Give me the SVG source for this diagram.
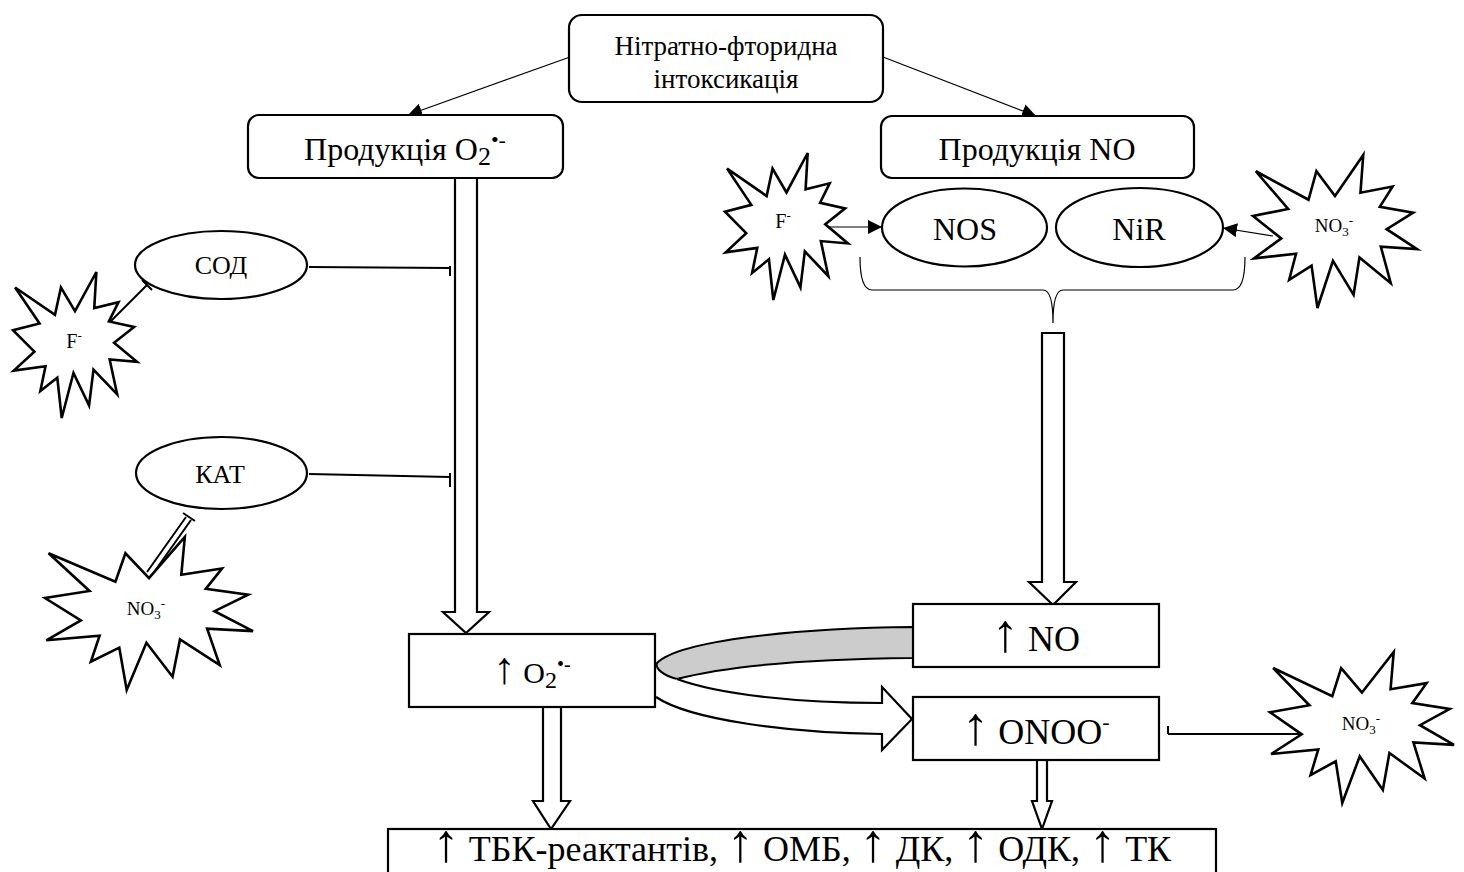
<svg xmlns="http://www.w3.org/2000/svg" width="1464" height="872" viewBox="0 0 1464 872">
  <defs>
    <style>
      text { font-family: "Liberation Serif", "Times New Roman", serif; fill: #000; text-anchor: middle; }
      .up { font-size: 150%; }
      .box { fill: #fff; stroke: #000; stroke-width: 2.2; }
      .oval { fill: #fff; stroke: #000; stroke-width: 2.2; }
      .burst { fill: #fff; stroke: #000; stroke-width: 2.6; stroke-linejoin: miter; }
      .thin { fill: none; stroke: #000; stroke-width: 1.2; }
      .link { fill: none; stroke: #000; stroke-width: 2; }
      .block { fill: #fff; stroke: #000; stroke-width: 2.2; stroke-linejoin: miter; }
    </style>
    <!-- "Explosion" starburst outline, 21600-unit box -->
    <symbol id="burst" viewBox="0 0 21600 21600" preserveAspectRatio="none" overflow="visible">
      <path vector-effect="non-scaling-stroke" d="M10800 5800 L8352 2295 L7312 6320 L370 2295 L4627 7617 L0 8615 L3722 11775 L135 14587 L5667 13937 L4762 17617 L7715 15627 L8485 21600 L10532 14935 L13247 19737 L14020 14457 L18145 18095 L16837 12942 L21600 13290 L17607 10475 L21097 8137 L16702 7315 L18380 4457 L14155 5325 L14522 0 Z"/>
    </symbol>
    <marker id="arrow" viewBox="0 0 10 10" refX="10" refY="5" markerWidth="14" markerHeight="14" markerUnits="userSpaceOnUse" orient="auto">
      <path d="M0 0 L10 5 L0 10 Z" fill="#000"/>
    </marker>
  </defs>

  <rect width="1464" height="872" fill="#fff"/>

  <!-- connectors -->
  <g id="connectors">
    <!-- thin arrows from the top box -->
    <line class="thin" x1="570" y1="57" x2="408" y2="115" marker-end="url(#arrow)"/>
    <line class="thin" x1="883" y1="57" x2="1036" y2="116" marker-end="url(#arrow)"/>
    <!-- activators of NOS / NiR -->
    <line class="thin" x1="828" y1="227" x2="882" y2="227" marker-end="url(#arrow)"/>
    <line class="thin" x1="1273" y1="236" x2="1223" y2="228" marker-end="url(#arrow)"/>
    <!-- inhibition lines -->
    <path class="link" d="M309 267 L450 268 M450 266 L450 276"/>
    <path class="link" d="M309 474 L450 477 M450 473 L450 487"/>
    <path class="link" d="M110 322 L147 285 M142 280 L152 290"/>
    <path class="link" d="M147 572 L186 517 M152 575 L191 520 M183 513 L195 521"/>
    <path class="link" d="M1168 734 L1306 734 M1168 726 L1168 734"/>
    <!-- brace under NOS / NiR -->
    <path class="thin" d="M860 257 Q860 290 872 290 L1043 290 Q1053 290 1053 323 Q1053 290 1063 290 L1233 290 Q1245 290 1245 257"/>
    <!-- block arrows -->
    <path class="block" d="M455 178 L477 178 L477 612 L489 612 L466 633 L443 612 L455 612 Z"/>
    <path class="block" d="M1042 333 L1064 333 L1064 582 L1076 582 L1053 605 L1029 582 L1042 582 Z"/>
    <path class="block" d="M543 707 L561 707 L561 801 L570 801 L551 829 L533 801 L543 801 Z"/>
    <path class="block" d="M1037 760 L1047 760 L1047 801 L1052 801 L1042 829 L1032 801 L1037 801 Z"/>
    <!-- curved band O2 -> NO and curved arrow O2 -> ONOO -->
    <path fill="#ccc" stroke="#000" stroke-width="2" d="M913 627 C800 628 680 640 657 663 C655 668 662 675 677 679 C730 665 820 659 913 658 Z"/>
    <path class="block" d="M677 679 C720 695 800 703 882 703 L882 687 L912 719 L882 750 L882 734 C790 733 690 720 656 697"/>
  </g>

  <!-- nodes -->
  <g id="n-intox">
    <rect class="box" x="569" y="15" width="314" height="87" rx="13"/>
    <text x="726" y="55" font-size="27">Нітратно-фторидна</text>
    <text x="726" y="88" font-size="27">інтоксикація</text>
  </g>

  <g id="n-prod-o2">
    <rect class="box" x="248" y="115" width="315" height="63" rx="11"/>
    <text x="405" y="160" font-size="32">Продукція O<tspan font-size="26" dy="5">2</tspan><tspan font-size="22" dy="-18">•-</tspan></text>
  </g>

  <g id="n-prod-no">
    <rect class="box" x="881" y="116" width="313" height="62" rx="11"/>
    <text x="1037" y="160" font-size="32">Продукція NO</text>
  </g>

  <g id="n-nos">
    <ellipse class="oval" cx="964.5" cy="227.5" rx="82.5" ry="39"/>
    <text x="965" y="240" font-size="32">NOS</text>
  </g>

  <g id="n-nir">
    <ellipse class="oval" cx="1139.5" cy="227.5" rx="83.5" ry="39.5"/>
    <text x="1139" y="240" font-size="32">NiR</text>
  </g>

  <g id="n-f-right">
    <use href="#burst" class="burst" x="725" y="153" width="123" height="147"/>
    <text x="783" y="228" font-size="20">F<tspan font-size="13" dy="-8">-</tspan></text>
  </g>

  <g id="n-no3-top">
    <use href="#burst" class="burst" x="1253" y="155" width="164" height="153"/>
    <text x="1334" y="232" font-size="19">NO<tspan font-size="13" dy="4">3</tspan><tspan font-size="13" dy="-11">-</tspan></text>
  </g>

  <g id="n-sod">
    <ellipse class="oval" cx="221" cy="265" rx="86" ry="34"/>
    <text x="221" y="274" font-size="26">СОД</text>
  </g>

  <g id="n-f-left">
    <use href="#burst" class="burst" x="13" y="272" width="124" height="146"/>
    <text x="74" y="348" font-size="20">F<tspan font-size="13" dy="-8">-</tspan></text>
  </g>

  <g id="n-kat">
    <ellipse class="oval" cx="221.5" cy="473" rx="85.5" ry="36"/>
    <text x="220" y="483" font-size="26">КАТ</text>
  </g>

  <g id="n-no3-left">
    <use href="#burst" class="burst" x="45" y="537" width="208" height="153"/>
    <text x="146" y="615" font-size="19">NO<tspan font-size="13" dy="4">3</tspan><tspan font-size="13" dy="-11">-</tspan></text>
  </g>

  <g id="n-o2-up">
    <rect class="box" x="409" y="634" width="246" height="73"/>
    <text x="532" y="683" font-size="30"><tspan class="up">↑</tspan> O<tspan font-size="24" dy="5">2</tspan><tspan font-size="20" dy="-17">•-</tspan></text>
  </g>

  <g id="n-no-up">
    <rect class="box" x="913" y="604" width="246" height="63"/>
    <text x="1036" y="651" font-size="36"><tspan class="up">↑</tspan> NO</text>
  </g>

  <g id="n-onoo-up">
    <rect class="box" x="913" y="697" width="246" height="63"/>
    <text x="1036" y="744" font-size="36"><tspan class="up">↑</tspan> ONOO<tspan font-size="22" dy="-15">-</tspan></text>
  </g>

  <g id="n-no3-right">
    <use href="#burst" class="burst" x="1270" y="652" width="184" height="151"/>
    <text x="1361" y="730" font-size="19">NO<tspan font-size="13" dy="4">3</tspan><tspan font-size="13" dy="-11">-</tspan></text>
  </g>

  <g id="n-products">
    <rect class="box" x="388" y="829" width="828" height="60"/>
    <text x="802" y="861" font-size="36"><tspan class="up">↑</tspan> ТБК-реактантів, <tspan class="up">↑</tspan> ОМБ, <tspan class="up">↑</tspan> ДК, <tspan class="up">↑</tspan> ОДК, <tspan class="up">↑</tspan> ТК</text>
  </g>
</svg>
